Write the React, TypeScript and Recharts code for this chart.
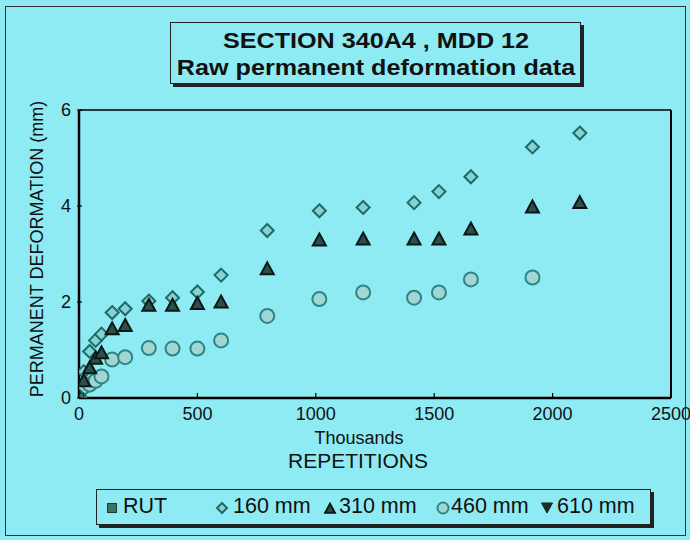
import React from "react";
import { ScatterChart, Scatter, XAxis, YAxis, ReferenceLine } from "recharts";

const repetitions = [0, 20, 45, 70, 95, 140, 195, 295, 395, 500, 600, 795, 1015, 1200, 1415, 1520, 1655, 1915, 2115];
const def160 = [0.05, 0.55, 0.97, 1.2, 1.33, 1.78, 1.86, 2.02, 2.09, 2.21, 2.56, 3.49, 3.9, 3.97, 4.07, 4.3, 4.61, 5.23, 5.52];
const def310 = [0, 0.35, 0.62, 0.82, 0.93, 1.43, 1.5, 1.92, 1.92, 1.96, 1.99, 2.68, 3.28, 3.3, 3.3, 3.3, 3.51, 3.97, 4.06];
const def460 = [0, 0.23, 0.28, 0.36, 0.45, 0.8, 0.85, 1.04, 1.03, 1.03, 1.2, 1.71, 2.06, 2.2, 2.09, 2.2, 2.47, 2.51, null];
const rutValues: (number | null)[] = [0];
const def610: (number | null)[] = [];
const xTicks = [0, 500, 1000, 1500, 2000, 2500];
const yTicks = [0, 2, 4, 6];
const legendLabels = ["RUT", "160 mm", "310 mm", "460 mm", "610 mm"];

const toPoints = (vals: (number | null)[]) =>
  vals
    .map((v, i) => (v === null || v === undefined ? null : { x: repetitions[i], y: v }))
    .filter((p) => p !== null) as { x: number; y: number }[];

const BG = "#8eebf3";
const FONT = "'Liberation Sans', Arial, sans-serif";

const Diamond = (p: any) => {
  const s = p.s ?? 6.5;
  return (
    <polygon
      points={`${p.cx},${p.cy - s} ${p.cx + s},${p.cy} ${p.cx},${p.cy + s} ${p.cx - s},${p.cy}`}
      fill="#86d2d2"
      stroke="#1d6b69"
      strokeWidth={2}
    />
  );
};
const Triangle = (p: any) => {
  const s = p.s ?? 1;
  return (
    <polygon
      points={`${p.cx},${p.cy - 7 * s} ${p.cx + 6.5 * s},${p.cy + 5 * s} ${p.cx - 6.5 * s},${p.cy + 5 * s}`}
      fill="#2c4f49"
      stroke="#0c1715"
      strokeWidth={2}
    />
  );
};
const Circle = (p: any) => (
  <circle cx={p.cx} cy={p.cy} r={p.r ?? 7} fill="#a0d6d4" stroke="#2f8582" strokeWidth={2} />
);
const Square = (p: any) => (
  <rect x={p.cx - 4.5} y={p.cy - 4.5} width={9} height={9} fill="#3d7468" stroke="#1b3a34" strokeWidth={1} />
);
const DownTri = (p: any) => (
  <polygon
    points={`${p.cx - 5.5},${p.cy - 5} ${p.cx + 5.5},${p.cy - 5} ${p.cx},${p.cy + 5}`}
    fill="#1b2e2b"
    stroke="#10231f"
    strokeWidth={1}
  />
);

const XTick = (props: any) => {
  const { x, y, payload } = props;
  return (
    <g>
      <line x1={x} x2={x} y1={y - 10} y2={y - 15} stroke="#000" strokeWidth={1.2} />
      <text x={x} y={y + 12} textAnchor="middle" fontFamily={FONT} fontSize={18} fill="#111">
        {payload.value}
      </text>
    </g>
  );
};
const YTick = (props: any) => {
  const { x, y, payload } = props;
  return (
    <g>
      <line x1={x + 8} x2={x + 13} y1={y} y2={y} stroke="#000" strokeWidth={1.2} />
      <text x={x + 2} y={y + 6} textAnchor="end" fontFamily={FONT} fontSize={18} fill="#111">
        {payload.value}
      </text>
    </g>
  );
};

const LegendIcon = ({ kind }: { kind: number }) => {
  const icons = [
    <Square cx={8} cy={8} />,
    <Diamond cx={8} cy={8} s={5} />,
    <Triangle cx={8} cy={9} s={0.75} />,
    <Circle cx={8} cy={8} r={5.5} />,
    <DownTri cx={8} cy={8} />,
  ];
  return (
    <svg width={16} height={16} style={{ display: "block" }}>
      {icons[kind]}
    </svg>
  );
};

export default function App() {
  const legendPos = [
    { icon: 104, text: 123 },
    { icon: 214, text: 233 },
    { icon: 322, text: 339 },
    { icon: 435, text: 451 },
    { icon: 539, text: 557 },
  ];
  return (
    <div style={{ position: "absolute", left: 0, top: 0, width: 690, height: 540, background: BG, fontFamily: FONT }}>
      <div style={{ position: "absolute", left: 5, top: 6, width: 681, height: 530, border: "1.5px solid #333", boxSizing: "border-box" }} />
      <ScatterChart width={690} height={540} margin={{ top: 110, right: 19, left: 49, bottom: 112 }} style={{ position: "absolute", left: 0, top: 0 }}>
        <XAxis
          type="number"
          dataKey="x"
          domain={[0, 2500]}
          ticks={xTicks}
          height={30}
          tickSize={0}
          tickMargin={10}
          tickLine={false}
          tick={<XTick />}
          axisLine={{ stroke: "#000", strokeWidth: 2.5 }}
          allowDataOverflow
        />
        <YAxis
          type="number"
          dataKey="y"
          domain={[0, 6]}
          ticks={yTicks}
          width={30}
          tickSize={0}
          tickMargin={10}
          tickLine={false}
          tick={<YTick />}
          axisLine={{ stroke: "#000", strokeWidth: 2.5 }}
          allowDataOverflow
        />
        <ReferenceLine y={6} stroke="#000" strokeWidth={1.5} />
        <ReferenceLine x={2500} stroke="#000" strokeWidth={2} />
        <Scatter name="460 mm" data={toPoints(def460)} shape={Circle} isAnimationActive={false} />
        <Scatter name="160 mm" data={toPoints(def160)} shape={Diamond} isAnimationActive={false} />
        <Scatter name="310 mm" data={toPoints(def310)} shape={Triangle} isAnimationActive={false} />
        <Scatter name="RUT" data={toPoints(rutValues)} shape={Square} isAnimationActive={false} />
        <Scatter name="610 mm" data={toPoints(def610)} shape={DownTri} isAnimationActive={false} />
      </ScatterChart>

      {/* Title box */}
      <div
        style={{
          position: "absolute",
          left: 170,
          top: 22,
          width: 411,
          height: 62,
          border: "1.5px solid #222",
          boxShadow: "3px 3px 0 #222",
          boxSizing: "border-box",
          color: "#111",
        }}
      >
        {["SECTION 340A4 , MDD 12", "Raw permanent deformation data"].map((t, i) => (
          <div
            key={t}
            style={{
              position: "absolute",
              left: "50%",
              top: i === 0 ? 18 : 45,
              transform: "translate(-50%, -50%) scaleX(1.17)",
              whiteSpace: "nowrap",
              fontWeight: "bold",
              fontSize: 21.5,
            }}
          >
            {t}
          </div>
        ))}
      </div>

      {/* Y axis label */}
      <div
        style={{
          position: "absolute",
          left: 37,
          top: 249,
          transform: "translate(-50%, -50%) rotate(-90deg)",
          whiteSpace: "nowrap",
          fontSize: 18,
          color: "#111",
        }}
      >
        PERMANENT DEFORMATION (mm)
      </div>

      {/* X axis labels */}
      <div style={{ position: "absolute", left: 359, top: 438, transform: "translate(-50%, -50%)", fontSize: 18, color: "#111", whiteSpace: "nowrap" }}>
        Thousands
      </div>
      <div style={{ position: "absolute", left: 358, top: 461, transform: "translate(-50%, -50%)", fontSize: 21, color: "#111", whiteSpace: "nowrap" }}>
        REPETITIONS
      </div>

      {/* Legend */}
      <div
        style={{
          position: "absolute",
          left: 96,
          top: 489,
          width: 555,
          height: 36,
          border: "1.5px solid #222",
          boxShadow: "3px 3px 0 #222",
          boxSizing: "border-box",
        }}
      />
      {legendLabels.map((lab, i) => (
        <React.Fragment key={lab}>
          <div style={{ position: "absolute", left: legendPos[i].icon, top: 500 }}>
            <LegendIcon kind={i} />
          </div>
          <div style={{ position: "absolute", left: legendPos[i].text, top: 494, fontSize: 21.5, color: "#111", whiteSpace: "nowrap" }}>
            {lab}
          </div>
        </React.Fragment>
      ))}
    </div>
  );
}
